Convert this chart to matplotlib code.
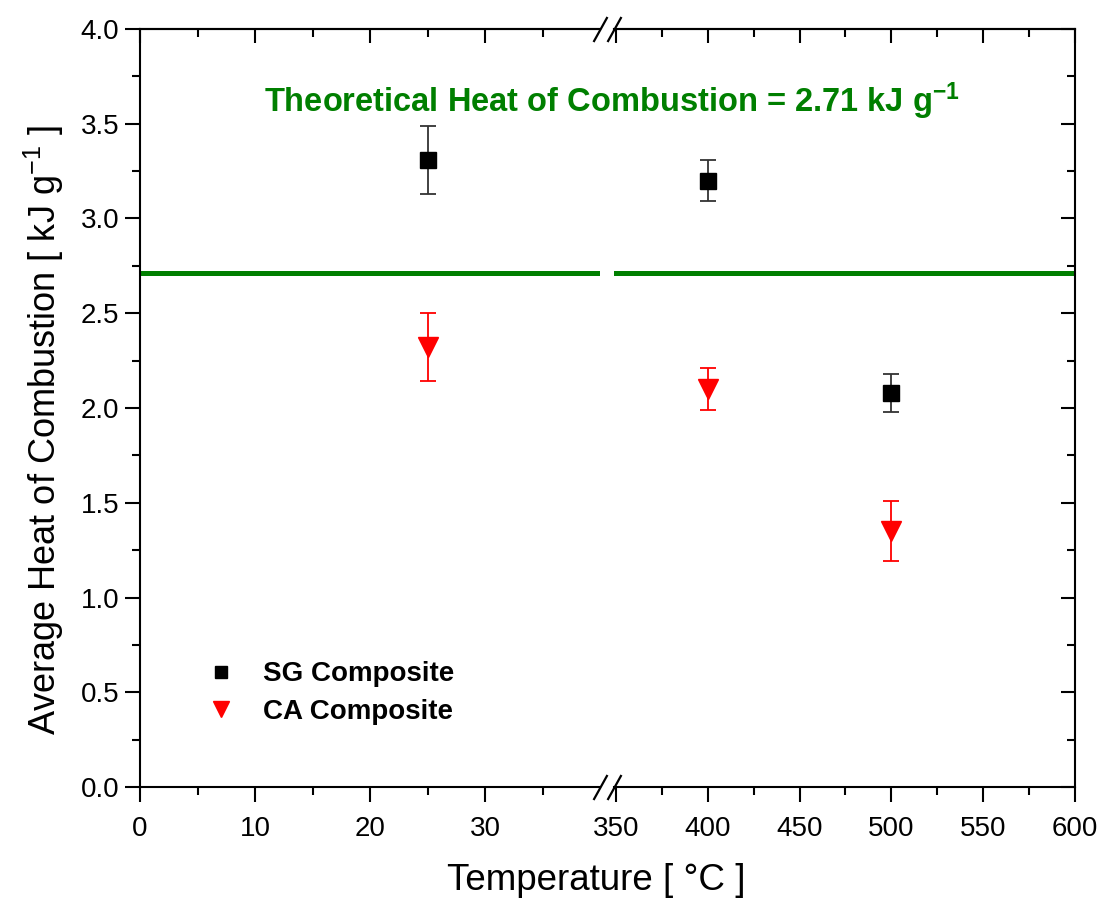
import matplotlib
matplotlib.use('Agg')
import matplotlib.pyplot as plt
from matplotlib.lines import Line2D

plt.rcParams['font.family'] = ['Liberation Sans', 'DejaVu Sans']
plt.rcParams['mathtext.fontset'] = 'custom'
plt.rcParams['mathtext.rm'] = 'Liberation Sans'
plt.rcParams['mathtext.it'] = 'Liberation Sans'
plt.rcParams['mathtext.bf'] = 'Liberation Sans:bold'

# data
temp = [25, 400, 500]
sg_mean = [3.31, 3.20, 2.08]
sg_err = [0.18, 0.11, 0.10]
ca_mean = [2.32, 2.10, 1.35]
ca_err = [0.18, 0.11, 0.16]
theory = 2.71
left_ticks = [0, 10, 20, 30]
right_ticks = [350, 400, 450, 500, 550, 600]

fig = plt.figure(figsize=(11.04, 9.05), dpi=100)
W, H = 1104, 905
bot, top = 787, 29
ax1 = fig.add_axes([140 / W, 1 - bot / H, 460 / W, (bot - top) / H])
ax2 = fig.add_axes([614 / W, 1 - bot / H, 461 / W, (bot - top) / H])
ax1.set_xlim(0, 40)
ax2.set_xlim(349, 600)
for ax in (ax1, ax2):
    ax.set_ylim(0, 4.0)
    ax.axhline(theory, color='#007f00', lw=3.6, zorder=1)
    for sp in ax.spines.values():
        sp.set_linewidth(1.5)

ax1.spines['right'].set_visible(False)
ax2.spines['left'].set_visible(False)

# both panels get the same points; each shows only its own range
for ax in (ax1, ax2):
    ax.errorbar(temp, sg_mean, yerr=sg_err, fmt='s', color='black', ecolor='#333333',
                ms=11, elinewidth=1.3, capsize=6, capthick=1.3, zorder=3, clip_on=True)
    ax.errorbar(temp, ca_mean, yerr=ca_err, fmt='v', color='red', ecolor='red',
                ms=14, elinewidth=1.3, capsize=6, capthick=1.3, zorder=3, clip_on=True)

ax1.set_xticks(left_ticks)
ax1.set_xticks([5, 15, 25, 35], minor=True)
ax1.set_yticks([0, 0.5, 1.0, 1.5, 2.0, 2.5, 3.0, 3.5, 4.0])
ax1.set_yticklabels(['0.0', '0.5', '1.0', '1.5', '2.0', '2.5', '3.0', '3.5', '4.0'])
ax1.set_yticks([0.25 + 0.5 * i for i in range(8)], minor=True)
ax1.tick_params(which='major', direction='out', length=11, width=1.5, labelsize=20, pad=4)
ax1.tick_params(axis='x', which='major', pad=10)
ax1.tick_params(which='minor', direction='out', length=6, width=1.5)

ax2.set_xticks(right_ticks)
ax2.set_xticks([375, 425, 475, 525, 575], minor=True)
ax2.yaxis.tick_right()
ax2.set_yticks([0, 0.5, 1.0, 1.5, 2.0, 2.5, 3.0, 3.5, 4.0])
ax2.set_yticks([0.25 + 0.5 * i for i in range(8)], minor=True)
ax2.tick_params(axis='x', which='major', direction='out', length=11, width=1.5, labelsize=20, pad=10)
ax2.tick_params(axis='x', which='minor', direction='out', length=6, width=1.5)
ax2.tick_params(axis='y', which='major', direction='in', length=10, width=1.5, labelright=False)
ax2.tick_params(axis='y', which='minor', direction='in', length=6, width=1.5)

# top ticks pointing inward
for ax, maj, mnr in ((ax1, left_ticks, [5, 15, 25, 35]),
                     (ax2, right_ticks, [375, 425, 475, 525, 575])):
    sec = ax.secondary_xaxis('top')
    sec.set_xticks(maj)
    sec.set_xticks(mnr, minor=True)
    sec.tick_params(which='major', direction='in', length=10, width=1.5, labeltop=False)
    sec.tick_params(which='minor', direction='in', length=6, width=1.5)
    sec.spines['top'].set_linewidth(1.5)

# break marks
kw = dict(marker=[(-1, -1.8), (1, 1.8)], markersize=18, linestyle='none',
          color='k', mec='k', mew=1.6, clip_on=False, zorder=5)
ax1.plot([1, 1], [0, 1], transform=ax1.transAxes, **kw)
ax2.plot([0, 0], [0, 1], transform=ax2.transAxes, **kw)

fig.text(264 / W, 1 - 101 / H, r'Theoretical Heat of Combustion = 2.71 kJ g$^{\mathbf{-1}}$',
         color='#007f00', fontsize=23.5, fontweight='bold', va='center', ha='left', zorder=6)

handles = [Line2D([], [], marker='s', color='black', ls='none', ms=9),
           Line2D([], [], marker='v', color='red', ls='none', ms=12)]
leg = fig.legend(handles, ['SG Composite', 'CA Composite'], loc='center left',
                 bbox_to_anchor=(207 / W, 1 - 693 / H), frameon=False, handlelength=1.0,
                 handletextpad=1.0, labelspacing=0.4, borderpad=0, borderaxespad=0,
                 prop={'size': 20, 'weight': 'bold'})

fig.text(596 / W, 1 - 880 / H, 'Temperature [ °C ]', ha='center', va='center', fontsize=26.5)
fig.text(44 / W, 1 - 430 / H, r'Average Heat of Combustion [ kJ g$^{-1}$ ]',
         ha='center', va='center', rotation=90, fontsize=26)

fig.savefig('out.png', dpi=100)
